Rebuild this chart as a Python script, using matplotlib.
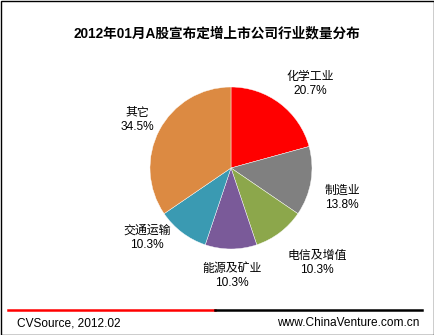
import matplotlib
matplotlib.use("Agg")
import matplotlib.pyplot as plt
from matplotlib.patches import Rectangle
from matplotlib.lines import Line2D

plt.rcParams['font.family'] = ['Liberation Sans', 'Noto Sans CJK SC', 'DejaVu Sans']

title = "2012年01月A股宣布定增上市公司行业数量分布"
categories = ["化学工业", "制造业", "电信及增值", "能源及矿业", "交通运输", "其它"]
shares = [20.7, 13.8, 10.3, 10.3, 10.3, 34.5]
colors = ["#FF0000", "#808080", "#8CA74B", "#7A5A99", "#3A9AB2", "#DC8A42"]
# label anchor points, in units of pie radius
label_pos = [(0.975, 1.04), (1.37, -0.37), (1.06, -1.17),
             (0.01, -1.33), (-1.04, -0.86), (-1.15, 0.59)]
source_text = "CVSource, 2012.02"
site_text = "www.ChinaVenture.com.cn"

W, H = 435, 335
fig = plt.figure(figsize=(W / 100, H / 100), dpi=100)

# pie axes: centre (231, 168) px, radius 81 px
cx, cy, r = 231, 168, 81
ax = fig.add_axes([(cx - r) / W, (H - cy - r) / H, 2 * r / W, 2 * r / H])
ax.pie(shares, colors=colors, startangle=90, counterclock=False, radius=1,
       wedgeprops=dict(edgecolor="white", linewidth=0.3))
ax.set_xlim(-1, 1)
ax.set_ylim(-1, 1)
ax.set_aspect("equal")
ax.axis("off")

for name, val, (lx, ly) in zip(categories, shares, label_pos):
    ax.text(lx, ly, f"{name}\n{val:.1f}%", ha="center", va="center",
            fontsize=8.6, linespacing=1.2, clip_on=False)

fig.text(217 / W, 1 - 33 / H, title, ha="center", va="center",
         fontsize=9.8, fontweight="bold")

# footer rule: red half, black half
fig.add_artist(Line2D([8 / W, 215 / W], [1 - 310 / H] * 2, color="#FF0000", lw=1.8))
fig.add_artist(Line2D([215 / W, 422 / W], [1 - 310 / H] * 2, color="black", lw=1.8))
fig.text(17 / W, 1 - 323 / H, source_text, ha="left", va="center", fontsize=8.6)
fig.text(419 / W, 1 - 323 / H, site_text, ha="right", va="center", fontsize=8.6)

# outer frame
fig.add_artist(Rectangle((0.5 / W, 0.5 / H), 1 - 1.5 / W, 1 - 1.5 / H,
                         transform=fig.transFigure, fill=False,
                         edgecolor="black", lw=1))

fig.savefig("out.png", dpi=100)
